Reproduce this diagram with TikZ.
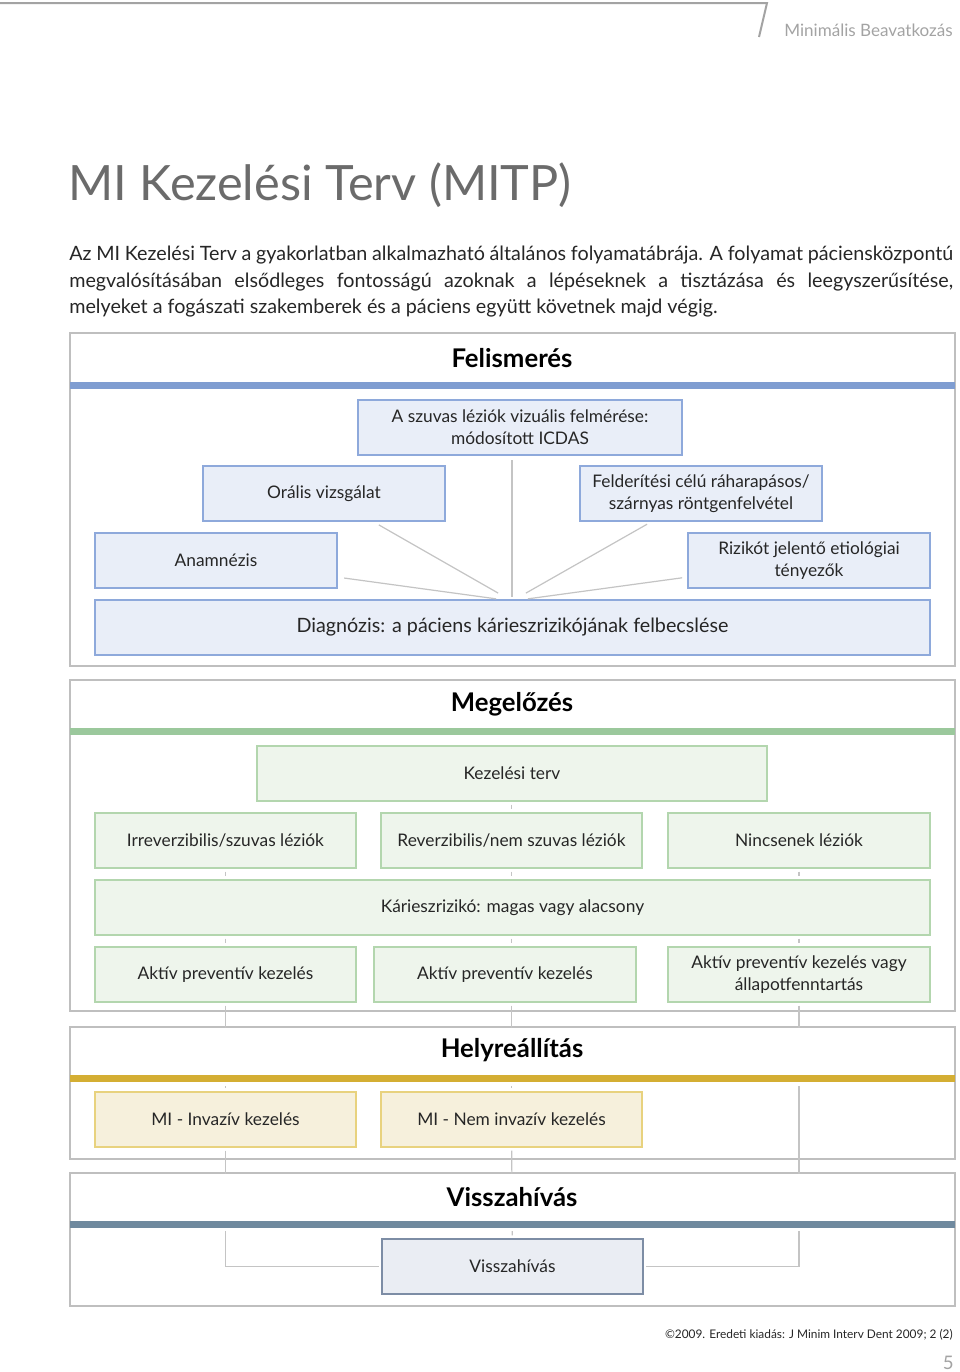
\documentclass[tikz,border=0pt]{standalone}
\usepackage{fontspec}
\setmainfont{Lato}
\usetikzlibrary{calc}
\definecolor{felbar}{HTML}{7F9DD1}
\definecolor{felfill}{HTML}{E9EEF8}
\definecolor{felline}{HTML}{8EA9DB}
\definecolor{megbar}{HTML}{9BC89C}
\definecolor{megfill}{HTML}{EEF5EC}
\definecolor{megline}{HTML}{B3D6AE}
\definecolor{helbar}{HTML}{D4AE33}
\definecolor{helfill}{HTML}{F6F0DC}
\definecolor{helline}{HTML}{E8D27E}
\definecolor{visbar}{HTML}{6F899E}
\definecolor{visfill}{HTML}{EAEDF3}
\definecolor{visline}{HTML}{7D8DA5}
\definecolor{framec}{HTML}{BFBFBF}
\definecolor{connc}{HTML}{C4C4C4}
\definecolor{txt}{HTML}{262626}
\definecolor{titlec}{HTML}{6B6B6B}
\definecolor{hdrc}{HTML}{A3A3A3}
\newcommand\mkbox[7]{%
  \node[#1, minimum width={(#4-#3)*0.75pt}, minimum height={(#6-#5)*0.75pt}] (#2) at ({(#3+#4)/2},{(#5+#6)/2}) {#7};}
\begin{document}
\begin{tikzpicture}[x=0.75pt,y=-0.75pt,
  basebox/.style={rectangle, line width=0.9pt, inner sep=0pt, align=center, text=txt,
    font=\fontsize{13}{16.5}\selectfont},
  fbox/.style={basebox, draw=felline, fill=felfill},
  mbox/.style={basebox, draw=megline, fill=megfill},
  hbox/.style={basebox, draw=helline, fill=helfill},
  vbox/.style={basebox, draw=visline, fill=visfill},
  frame/.style={draw=framec, line width=1.1pt, fill=white},
  sectitle/.style={inner sep=0pt, font=\fontsize{19.3}{22}\bfseries\selectfont, text=black},
  conn/.style={draw=connc, line width=0.9pt},
  para/.style={inner sep=0pt, text=txt, font=\fontsize{14.8}{18}\selectfont},
]
\useasboundingbox (0,0) rectangle (960,1372);

% header
\draw[hdrc, line width=1.5pt] (0,3) -- (767,3) -- (759,37);
\node[inner sep=0pt, anchor=base east, text=hdrc, font=\fontsize{12.8}{15}\selectfont] (hdr) at (953,36) {Minimális Beavatkozás};

% title and paragraph
\node[inner sep=0pt, anchor=base west, text=titlec, font=\fontsize{36.5}{42}\selectfont] (title) at (68,200) {MI Kezelési Terv (MITP)};
\node[para, anchor=base west] (p1) at (69,260) {\makebox[663pt][s]{Az MI Kezelési Terv a gyakorlatban alkalmazható általános folyamatábrája. A folyamat páciensközpontú}};
\node[para, anchor=base west] (p2) at (69,287) {\makebox[663pt][s]{megvalósításában elsődleges fontosságú azoknak a lépéseknek a tisztázása és leegyszerűsítése,}};
\node[para, anchor=base west] (p3) at (69,313) {melyeket a fogászati szakemberek és a páciens együtt követnek majd végig.};

% section frames
\draw[frame] (70,333) rectangle (955,666);
\draw[frame] (70,680) rectangle (955,1011);
\draw[frame] (70,1027) rectangle (955,1159);
\draw[frame] (70,1173) rectangle (955,1306);

% ---------- Felismerés ----------
\fill[felbar] (70,382) rectangle (955,389);
\node[sectitle] (t1) at (512,358) {Felismerés};
\mkbox{fbox}{icdas}{358}{682}{400}{455}{A szuvas léziók vizuális felmérése:\\módosított ICDAS}
\mkbox{fbox}{oral}{203}{445}{466}{521}{Orális vizsgálat}
\mkbox{fbox}{rtg}{580}{822}{466}{521}{Felderítési célú ráharapásos/\\szárnyas röntgenfelvétel}
\mkbox{fbox}{anam}{95}{337}{533}{588}{Anamnézis}
\mkbox{fbox}{rizk}{688}{930}{533}{588}{Rizikót jelentő etiológiai\\tényezők}
\mkbox{fbox}{diag}{95}{930}{600}{655}{\fontsize{14.8}{17}\selectfont Diagnózis: a páciens kárieszrizikójának felbecslése}
\coordinate (hub) at (512,601);
\draw[conn, shorten <=3.5pt, shorten >=3pt] (hub |- icdas.south) -- (hub);
\draw[conn, shorten <=5pt, shorten >=12pt] (oral) -- (hub);
\draw[conn, shorten <=5pt, shorten >=12pt] (anam) -- (hub);
\draw[conn, shorten <=4pt, shorten >=12pt] (rtg) -- (hub);
\draw[conn, shorten <=4pt, shorten >=12pt] (rizk) -- (hub);

% ---------- boxes of the lower sections ----------
\mkbox{mbox}{kez}{257}{767}{746}{801}{Kezelési terv}
\mkbox{mbox}{irr}{95}{356}{813}{868}{Irreverzibilis/szuvas léziók}
\mkbox{mbox}{rev}{381}{642}{813}{868}{Reverzibilis/nem szuvas léziók}
\mkbox{mbox}{nin}{668}{930}{813}{868}{Nincsenek léziók}
\mkbox{mbox}{kar}{95}{930}{880}{935}{Kárieszrizikó: magas vagy alacsony}
\mkbox{mbox}{apa}{95}{356}{947}{1002}{Aktív preventív kezelés}
\mkbox{mbox}{apb}{374}{636}{947}{1002}{Aktív preventív kezelés}
\mkbox{mbox}{apc}{668}{930}{947}{1002}{Aktív preventív kezelés vagy\\állapotfenntartás}
\mkbox{hbox}{inv}{95}{356}{1092}{1147}{MI - Invazív kezelés}
\mkbox{hbox}{ninv}{381}{642}{1092}{1147}{MI - Nem invazív kezelés}
\mkbox{vbox}{rec}{382}{643}{1239}{1294}{Visszahívás}

\begin{scope}[conn, shorten <=2.25pt, shorten >=2.25pt]
\draw (kez.south -| rev) -- (rev);
\draw (irr) -- (irr |- kar.north);
\draw (rev) -- (rev |- kar.north);
\draw (nin) -- (nin |- kar.north);
\draw (irr |- kar.south) -- (apa);
\draw (rev |- kar.south) -- (rev |- apb.north);
\draw (nin |- kar.south) -- (apc);
\draw (apa) -- (inv);
\draw (rev |- apb.south) -- (ninv);
\draw[shorten >=1.5pt] (apc) |- (rec);
\draw[shorten >=1.5pt] (inv) |- (rec);
\draw (ninv) -- (rec);
\end{scope}

% ---------- section headers covering connectors ----------
\fill[white] (71,681) rectangle (954,727);
\fill[megbar] (70,728) rectangle (955,735);
\node[sectitle] (t2) at (512,704) {Megelőzés};

\fill[white] (71,1028) rectangle (954,1086);
\fill[helbar] (70,1075) rectangle (955,1082);
\node[sectitle] (t3) at (512,1050) {Helyreállítás};

\fill[white] (71,1174) rectangle (954,1231);
\fill[visbar] (70,1221) rectangle (955,1228);
\node[sectitle] (t4) at (512,1197) {Visszahívás};

% footer
\node[inner sep=0pt, anchor=base east, text=txt, font=\fontsize{8.9}{11}\selectfont] (foot) at (953,1338) {©2009. Eredeti kiadás: J Minim Interv Dent 2009; 2 (2)};
\node[inner sep=0pt, anchor=base east, text=hdrc, font=\fontsize{14}{16}\selectfont] (pg) at (954,1369) {5};
\end{tikzpicture}
\end{document}
